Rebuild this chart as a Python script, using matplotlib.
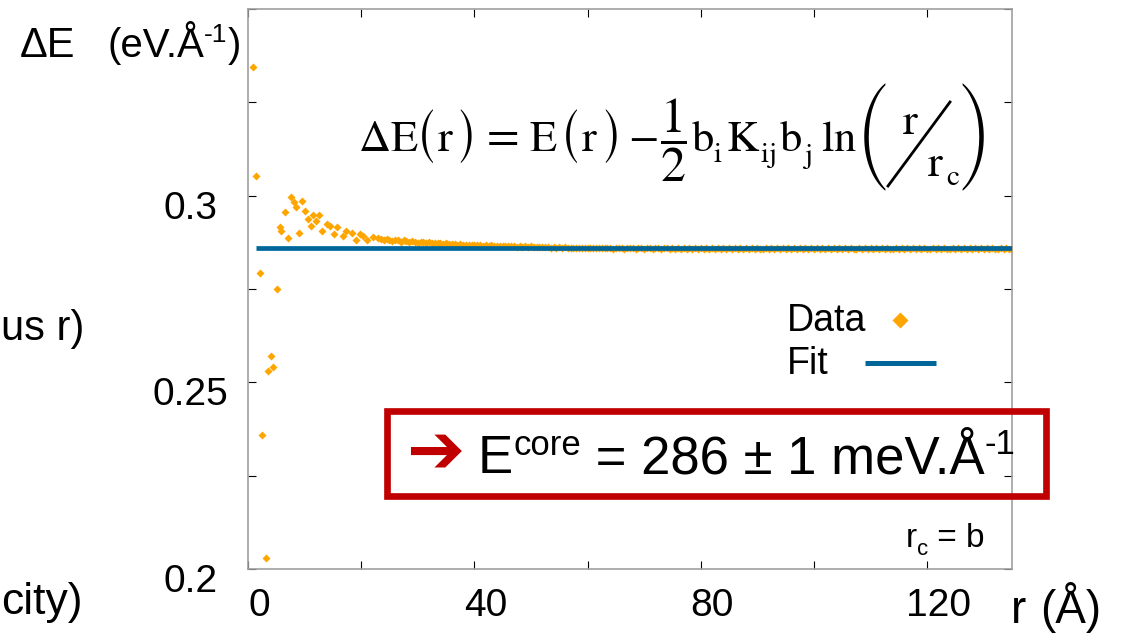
import numpy as np
import matplotlib
matplotlib.use("Agg")
import matplotlib.pyplot as plt
from matplotlib.lines import Line2D
from matplotlib.patches import Rectangle
from matplotlib.transforms import ScaledTranslation

plt.rcParams['font.family'] = ['Liberation Sans', 'DejaVu Sans']
plt.rcParams['mathtext.fontset'] = 'stix'

W, H, DPI = 1124, 634, 100

# Core energy profile dE(r) (eV/Angstrom), short-range part
r_core = [0.9, 1.5, 2.1, 2.5, 3.1, 3.5, 4.0, 4.5, 5.1, 5.6, 5.9, 6.5, 7.0, 7.55,
          8.1, 8.55, 9.0, 9.5, 10.0, 10.6, 11.1, 11.5, 12.1, 12.6, 13.0, 13.9,
          14.5, 15.2, 15.8, 16.8, 17.4, 18.3, 19.0, 19.8, 20.3, 21.1, 22.1]
dE_core = [0.3345, 0.3053, 0.2792, 0.2360, 0.2029, 0.2531, 0.2571, 0.2540,
           0.2750, 0.2915, 0.2906, 0.2955, 0.2887, 0.2997, 0.2982, 0.2969,
           0.2901, 0.2985, 0.2958, 0.2938, 0.2920, 0.2947, 0.2933, 0.2947,
           0.2906, 0.2924, 0.2920, 0.2898, 0.2915, 0.2893, 0.2906, 0.2899,
           0.2881, 0.2898, 0.2893, 0.2880, 0.2889]

# Long-range part, sampled every 0.5 Angstrom from 23 to 135
r_tail = np.arange(23.0, 135.25, 0.5)
dE_tail = [
    0.2886, 0.2883, 0.2881, 0.2884, 0.2882, 0.2879, 0.2882, 0.2880, 0.2877, 0.2880,
    0.2878, 0.2876, 0.2878, 0.2876, 0.2874, 0.2876, 0.2875, 0.2873, 0.2875, 0.2873,
    0.2872, 0.2874, 0.2872, 0.2871, 0.2872, 0.2870, 0.2871, 0.2870, 0.2869, 0.2870,
    0.2869, 0.2868, 0.2869, 0.2868, 0.2867, 0.2868, 0.2867, 0.2866, 0.2867, 0.2866,
    0.2867, 0.2865, 0.2866, 0.2865, 0.2866, 0.2864, 0.2865, 0.2864, 0.2865, 0.2863,
    0.2864, 0.2863, 0.2864, 0.2863, 0.2864, 0.2862, 0.2863, 0.2862, 0.2863, 0.2862,
    0.2863, 0.2861, 0.2862, 0.2861, 0.2862, 0.2861, 0.2862, 0.2860, 0.2861, 0.2860,
    0.2861, 0.2860, 0.2861, 0.2859, 0.2861, 0.2860, 0.2861, 0.2859, 0.2860, 0.2859,
    0.2861, 0.2859, 0.2860, 0.2858, 0.2860, 0.2859, 0.2861, 0.2858, 0.2860, 0.2859,
    0.2860, 0.2858, 0.2859, 0.2860, 0.2858, 0.2859, 0.2861, 0.2858, 0.2859, 0.2860,
    0.2858, 0.2859, 0.2860, 0.2858, 0.2859, 0.2857, 0.2860, 0.2858, 0.2859, 0.2858,
    0.2860, 0.2857, 0.2859, 0.2858, 0.2860, 0.2858, 0.2859, 0.2857, 0.2859, 0.2858,
    0.2860, 0.2858, 0.2859, 0.2857, 0.2859, 0.2858, 0.2860, 0.2857, 0.2859, 0.2858,
    0.2859, 0.2857, 0.2859, 0.2858, 0.2860, 0.2857, 0.2858, 0.2859, 0.2857, 0.2859,
    0.2858, 0.2860, 0.2857, 0.2859, 0.2858, 0.2860, 0.2858, 0.2859, 0.2857, 0.2859,
    0.2858, 0.2859, 0.2857, 0.2860, 0.2858, 0.2859, 0.2857, 0.2859, 0.2858, 0.2860,
    0.2857, 0.2859, 0.2858, 0.2859, 0.2857, 0.2860, 0.2858, 0.2859, 0.2857, 0.2858,
    0.2859, 0.2857, 0.2860, 0.2858, 0.2859, 0.2857, 0.2859, 0.2858, 0.2860, 0.2857,
    0.2859, 0.2858, 0.2857, 0.2859, 0.2858, 0.2860, 0.2857, 0.2859, 0.2858, 0.2859,
    0.2857, 0.2860, 0.2858, 0.2859, 0.2857, 0.2858, 0.2859, 0.2857, 0.2860, 0.2858,
    0.2859, 0.2857, 0.2858, 0.2860, 0.2858, 0.2859, 0.2857, 0.2859, 0.2858, 0.2860,
    0.2857, 0.2859, 0.2858, 0.2859, 0.2857, 0.2860, 0.2858, 0.2859, 0.2857, 0.2858,
    0.2859, 0.2857, 0.2859, 0.2858, 0.2858,
]

# Fitted core energy (eV/Angstrom) and the r-range of the fit
E_core = 0.286
fit_r = [1.5, 135]

xticks = [0, 20, 40, 60, 80, 100, 120]
xticklabels = ['0', '', '40', '', '80', '', '120']
yticks = [0.2, 0.225, 0.25, 0.275, 0.3, 0.325, 0.35]
yticklabels = ['0.2', '', '0.25', '', '0.3', '', '']

ORANGE = '#FFA500'
BLUE = '#006699'
RED = '#C00000'


def fx(px):
    return px / W


def fy(py):
    return 1 - py / H


fig = plt.figure(figsize=(W / DPI, H / DPI), dpi=DPI)
renderer = fig.canvas.get_renderer()
ax = fig.add_axes([fx(248), fy(569), fx(1012) - fx(248), fy(9) - fy(569)])

r_all = list(r_core) + list(r_tail)
dE_all = list(dE_core) + list(dE_tail)
ax.plot(r_all, dE_all, linestyle='none', marker='D', ms=4.4,
        color=ORANGE, mec='none', zorder=2)
ax.plot(fit_r, [E_core, E_core], color=BLUE, lw=3.4, zorder=3,
        solid_capstyle='butt')

ax.set_xlim(0, 135)
ax.set_ylim(0.2, 0.35)
ax.set_xticks(xticks)
ax.set_xticklabels(xticklabels)
ax.set_yticks(yticks)
ax.set_yticklabels(yticklabels)

for sp in ax.spines.values():
    sp.set_color('#a0a0a0')
    sp.set_linewidth(1.2)

ax.tick_params(axis='both', direction='in', length=6, width=0.8,
               color='black', top=True, right=True, labelsize=28)
ax.tick_params(axis='x', pad=14)
ax.tick_params(axis='y', pad=41.5)

x_shift = ScaledTranslation(11 / DPI, 0, fig.dpi_scale_trans)
y_shift = ScaledTranslation(0, -9 / DPI, fig.dpi_scale_trans)
for lab in ax.get_xticklabels():
    lab.set_transform(lab.get_transform() + x_shift)
for lab in ax.get_yticklabels():
    lab.set_horizontalalignment('center')
    lab.set_transform(lab.get_transform() + y_shift)


def text_run(x0, base, pieces, **common):
    """Write (string, fontsize, raise_px) pieces left to right on one baseline
    (pixel coords, y measured downwards)."""
    x = x0
    for s, size, dy in pieces:
        t = fig.text(fx(x), fy(base - dy), s, fontsize=size, ha='left', va='baseline', **common)
        x += t.get_window_extent(renderer).width
    return x


def put(x, y, s, size, va='baseline', **kw):
    """Single text item at pixel position (x, y), y measured downwards."""
    return fig.text(fx(x), fy(y), s, fontsize=size, ha='left', va=va, **kw)


# Formula  dE(r) = E(r) - 1/2 b_i K_ij b_j ln(r / r_c)
F, S = 32, 21
BASE, SUB, AXIS = 151, 162, 137
SERIF = dict(family='STIXGeneral')
PAREN = dict(family='STIXSizeOneSym')
BIG = dict(family='STIXSizeFourSym')
put(358, BASE, r'$\Delta\mathrm{E}$', F)
put(416, AXIS, '(', 32, va='center', **PAREN)
put(437, BASE, r'$\mathrm{r}$', F)
put(456, AXIS, ')', 32, va='center', **PAREN)
put(487, BASE, '=', 34, **SERIF)
put(529, BASE, r'$\mathrm{E}$', F)
put(560, AXIS, '(', 32, va='center', **PAREN)
put(581, BASE, r'$\mathrm{r}$', F)
put(601, AXIS, ')', 32, va='center', **PAREN)
put(628, BASE, '\u2212', 32, **SERIF)
put(660, BASE, r'$\dfrac{1}{2}$', 36)
put(691, BASE, r'$\mathrm{b}$', F)
put(713, SUB, r'$\mathrm{i}$', S)
put(726, BASE, r'$\mathrm{K}$', F)
put(760, SUB, r'$\mathrm{ij}$', S)
put(779, BASE, r'$\mathrm{b}$', F)
put(802, SUB + 1, r'$\mathrm{j}$', S)
put(821, BASE, r'$\mathrm{ln}$', F)
put(860, AXIS, '(', 25, va='center', **BIG)
put(902, 134, r'$\mathrm{r}$', F)
put(927, 176, r'$\mathrm{r}$', F)
put(946, 185, r'$\mathrm{c}$', S)
put(959, AXIS, ')', 25, va='center', **BIG)
fig.add_artist(Line2D([fx(888), fx(950)], [fy(186), fy(102)],
                      transform=fig.transFigure, color='black', lw=2.0))

# Axis captions
put(20, 57, 'ΔE', 30)
text_run(107, 57, [('(eV.Å', 29, 0), ('-1', 19, 15), (')', 29, 0)])
put(1011, 623, 'r', 33)
put(1040, 623, '(Å)', 33)
put(1, 340, 'us r)', 30)
put(1, 614, 'city)', 32)
text_run(906, 547, [('r', 24, 0), ('c', 16, -8), (' = b', 24, 0)])

# Legend: label on the left, key on the right
put(787, 331, 'Data', 27)
put(787, 374, 'Fit', 27)
fig.add_artist(Line2D([fx(900)], [fy(320)], transform=fig.transFigure, linestyle='none',
                      marker='D', ms=8.2, color=ORANGE, mec='none'))
fig.add_artist(Line2D([fx(865), fx(936)], [fy(362.5), fy(362.5)], transform=fig.transFigure,
                      color=BLUE, lw=3.6, solid_capstyle='butt'))

# Result box
fig.add_artist(Rectangle((fx(386.5), fy(495.5)), fx(1045.5) - fx(386.5), fy(411) - fy(495.5),
                         transform=fig.transFigure, fill=False, edgecolor=RED, lw=4.8))
fig.text(fx(435), fy(453), '➔', ha='center', va='center', fontsize=50, color=RED,
         fontweight='bold', family=['DejaVu Sans'])
text_run(478, 473, [('E', 38, 0), ('core', 25, 18), (' = 286 ± 1 meV.Å', 38, 0), ('-1', 25, 19)])

fig.savefig('out.png', dpi=DPI)
